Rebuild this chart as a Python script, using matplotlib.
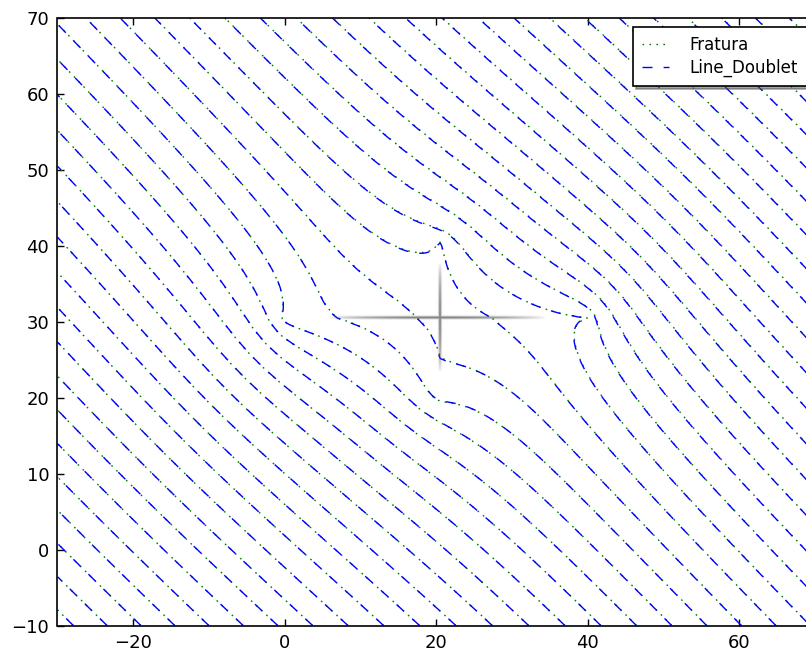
import numpy as np
import matplotlib
matplotlib.use("Agg")
import matplotlib.pyplot as plt

# Uniform regional flow
flow_rate = 1.0
flow_angle_deg = -45.0

# Leaky fractures (start and end points) and their hydraulic resistance
fracture_h = [(0.0, 30.5), (40.0, 30.5)]
fracture_v = [(20.5, 20.5), (20.5, 40.5)]
fracture_resistance = 50.0

# Stream-function contour levels
psi_step = 3.18
psi_ref_point = (-30.0, 0.83)

# Axis ranges and ticks
x_range = (-30, 70)
y_range = (-10, 70)
x_ticks = [-20, 0, 20, 40, 60]
y_ticks = [-10, 0, 10, 20, 30, 40, 50, 60, 70]

series_labels = ["Fratura", "Line_Doublet"]
elements_h = [40, 12]
elements_v = [24, 8]

W_UNIFORM = flow_rate * np.exp(-1j * np.deg2rad(flow_angle_deg))


def xlogx(w):
    small = np.abs(w) < 1e-14
    return np.where(small, 0, w * np.log(np.where(small, 1, w)))


def log_kernel(z, a, b):
    """(1/2pi) * integral of ln|z - zeta| ds over the segment a-b."""
    L = abs(b - a)
    Z = (2 * z - (a + b)) / (b - a)
    f = xlogx(Z + 1) - xlogx(Z - 1) - 2
    return (L * np.log(L / 2) + L / 2 * f.real) / (2 * np.pi)


def build_elements(nh, nv):
    z1, z2, line_id = [], [], []
    for k, (pts, n) in enumerate([(fracture_h, nh), (fracture_v, nv)]):
        a, b = complex(*pts[0]), complex(*pts[1])
        t = 0.5 * (1 - np.cos(np.linspace(0, np.pi, n + 1)))
        p = a + (b - a) * t
        z1.append(p[:-1])
        z2.append(p[1:])
        line_id += [k] * n
    return np.concatenate(z1), np.concatenate(z2), np.array(line_id)


def solve_strengths(nh, nv):
    """Vortex density per element so that the leakage through each fracture
    equals the potential jump divided by the resistance."""
    z1, z2, line_id = build_elements(nh, nv)
    ell = np.abs(z2 - z1)
    mid = 0.5 * (z1 + z2)
    m = len(z1)
    K = np.zeros((m, m))
    for j in range(m):
        K[:, j] = log_kernel(mid, z1[j], z2[j])
    psi_u = (-W_UNIFORM * mid).imag
    rows, rhs = [], []
    for k in range(2):
        idx = np.where(line_id == k)[0]
        n = len(idx)
        jump_node = np.zeros((n + 1, m))
        for r in range(n + 1):
            jump_node[r, idx[r:]] = ell[idx[r:]]
        jump_mid = 0.5 * (jump_node[:-1] + jump_node[1:])
        for r in range(1, n):
            i0, i1 = idx[r - 1], idx[r]
            integ = (ell[i0] / 4) * (jump_mid[r - 1] + jump_node[r]) + \
                    (ell[i1] / 4) * (jump_node[r] + jump_mid[r])
            rows.append(-(K[i1] - K[i0]) + integ / fracture_resistance)
            rhs.append(-(psi_u[i1] - psi_u[i0]))
        row = np.zeros(m)
        row[idx] = ell[idx]
        rows.append(row)
        rhs.append(0.0)
    gamma = np.linalg.solve(np.array(rows), np.array(rhs))
    return z1, z2, gamma


def stream_function(z, nh, nv):
    z1, z2, gamma = solve_strengths(nh, nv)
    psi = (-W_UNIFORM * z).imag
    for j in range(len(z1)):
        psi = psi - gamma[j] * log_kernel(z, z1[j], z2[j])
    return psi


x = np.linspace(x_range[0], x_range[1], 801) + 0.031
y = np.linspace(y_range[0], y_range[1], 641) + 0.029
X, Y = np.meshgrid(x, y)
Zg = X + 1j * Y

plt.rcParams["lines.scale_dashes"] = False
fig = plt.figure(figsize=(8.06, 6.55), dpi=100, facecolor="white")
ax = fig.add_axes([57.5 / 806, 29.3 / 655, 757.5 / 806, 607.4 / 655])

styles = [dict(colors="g", linestyles=[(0, (1.2, 3.8))], linewidths=1.0),
          dict(colors="b", linestyles=[(0, (7.2, 8.0))], linewidths=1.0)]

handles = []
for nh, nv, st, lab in zip(elements_h, elements_v, styles, series_labels):
    psi = stream_function(Zg, nh, nv)
    ref = stream_function(np.array([complex(*psi_ref_point)]), nh, nv)[0]
    levels = ref + psi_step * np.arange(-45, 45)
    ax.contour(X, Y, psi, levels=levels, **st)
    handles.append(plt.Line2D([], [], color=st["colors"], linestyle=st["linestyles"][0],
                              linewidth=1.0, label=lab))

# Fracture traces, fading toward the tips
(hx0, hy0), (hx1, hy1) = fracture_h
(vx0, vy0), (vx1, vy1) = fracture_v
gx = np.linspace(hx0 - 2, hx1 + 2, 841)
gy = np.linspace(vy0 - 2, vy1 + 2, 501)
GX, GY = np.meshgrid(gx, gy)
uh = (GX - 0.5 * (hx0 + hx1)) / (0.5 * (hx1 - hx0))
uv = (GY - 0.5 * (vy0 + vy1)) / (0.5 * (vy1 - vy0))
ih = np.clip(1 - (uh / 0.72) ** 2, 0, 1) * np.exp(-((GY - hy0) / 0.16) ** 2)
iv = np.clip(1 - (uv / 0.72) ** 2, 0, 1) * np.exp(-((GX - (vx0 - 0.1)) / 0.16) ** 2)
inten = np.maximum(ih, iv)
rgba = np.zeros(GX.shape + (4,))
rgba[..., :3] = 0.3
rgba[..., 3] = 0.75 * inten ** 0.8
ax.imshow(rgba, extent=(gx[0], gx[-1], gy[0], gy[-1]), origin="lower",
          interpolation="bilinear", zorder=5, aspect="auto")

ax.set_xlim(*x_range)
ax.set_ylim(*y_range)
ax.set_xticks(x_ticks)
ax.set_yticks(y_ticks)
ax.tick_params(direction="in", length=5, width=1, top=True, right=True,
               labelsize=13, pad=6)
for sp in ax.spines.values():
    sp.set_linewidth(1.2)

leg = ax.legend(handles=handles, loc="upper right", fontsize=12, handlelength=1.6,
                handletextpad=1.2, borderpad=0.55, labelspacing=0.3,
                fancybox=False, shadow=True, framealpha=1, borderaxespad=0.5)
leg.get_frame().set_edgecolor("black")
leg.get_frame().set_linewidth(1.2)

fig.savefig("out.png", dpi=100, facecolor="white")
